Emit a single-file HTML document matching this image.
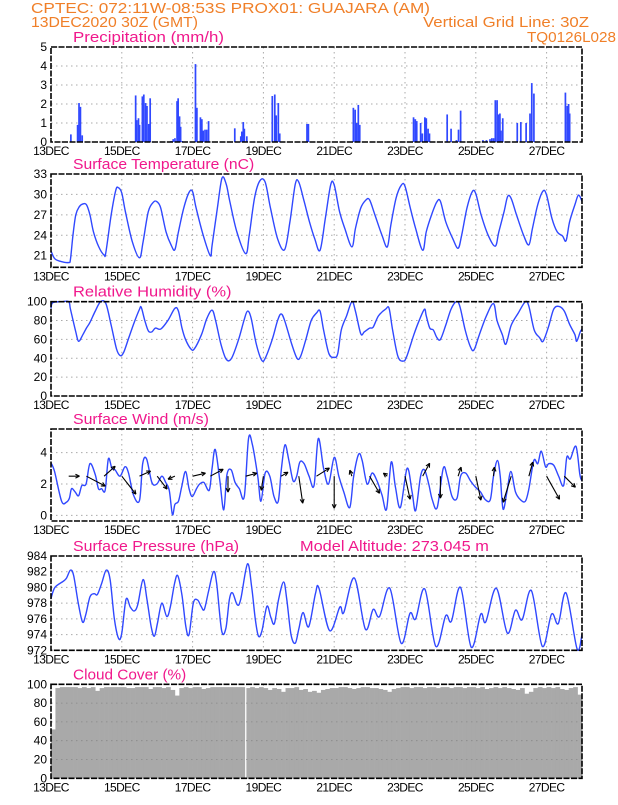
<!DOCTYPE html>
<html><head><meta charset="utf-8"><style>
html,body{margin:0;padding:0;background:#fff;}
svg text{font-family:"Liberation Sans",sans-serif;}
</style></head><body>
<svg id="chart" xmlns="http://www.w3.org/2000/svg" width="618" height="800" viewBox="0 0 618 800">
<rect x="0" y="0" width="618" height="800" fill="#fff"/>
<text x="31" y="13" font-size="15" fill="#f07f28" textLength="399" lengthAdjust="spacingAndGlyphs">CPTEC:   072:11W-08:53S   PROX01: GUAJARA (AM)</text>
<text x="31" y="27" font-size="15" fill="#f07f28" textLength="167" lengthAdjust="spacingAndGlyphs">13DEC2020 30Z (GMT)</text>
<text x="423" y="27" font-size="15" fill="#f07f28" textLength="166" lengthAdjust="spacingAndGlyphs">Vertical Grid Line: 30Z</text>
<text x="527" y="42" font-size="15" fill="#f07f28" textLength="89" lengthAdjust="spacingAndGlyphs">TQ0126L028</text>
<g id="plots"></g>
</svg>
<script>
// ---- data ----
const dayLabels = ["13DEC","15DEC","17DEC","19DEC","21DEC","23DEC","25DEC","27DEC"];
const precipDays = [0.56,0.75,0.79,0.83,0.88,2.39,2.42,2.47,2.5,2.58,2.62,2.67,2.71,2.76,2.8,3.39,3.45,3.5,3.56,3.59,3.63,3.66,3.7,4.08,4.12,4.22,4.26,4.3,4.35,4.4,4.45,5.19,5.36,5.39,5.43,5.46,5.53,6.25,6.32,6.36,6.42,6.46,7.23,7.27,8.54,8.59,8.63,8.68,8.72,10.24,10.29,10.33,10.44,10.49,10.56,10.6,10.65,10.69,11.19,11.3,11.45,11.51,11.57,12.2,12.3,12.4,12.45,12.5,12.55,12.6,12.64,12.68,12.71,12.76,13.17,13.27,13.42,13.53,13.58,13.64,14.53,14.58,14.62,14.65];
const precipValues = [0.4,0.9,2.05,1.85,0.35,2.45,1.15,1.25,0.9,2.4,2.5,2.05,1.9,0.95,2.3,0.05,0.15,0.2,2.15,2.3,1.35,0.8,0.05,4.1,1.8,1.3,1.2,0.6,0.65,0.65,1.1,0.72,0.3,0.55,1.05,0.7,0.3,2.42,2.5,1.4,2.05,0.45,0.95,0.95,1.8,1.7,1.0,1.95,0.9,1.3,1.2,1.1,1.0,0.45,1.3,1.25,0.7,0.45,1.45,0.7,0.1,0.65,1.65,0.1,0.1,0.15,0.2,0.2,2.2,2.2,1.45,1.5,0.6,1.25,1.0,1.05,1.0,1.5,3.1,2.55,2.6,1.9,2.0,1.5];

const tempDays = [0,0.1,0.25,0.5,0.55,0.62,0.7,0.8,0.9,1.0,1.1,1.2,1.35,1.5,1.55,1.7,1.83,1.9,2.0,2.1,2.3,2.5,2.6,2.75,2.9,3.0,3.1,3.25,3.4,3.5,3.6,3.75,3.9,4.0,4.1,4.3,4.5,4.55,4.7,4.83,4.95,5.05,5.25,5.5,5.6,5.75,5.9,6.05,6.2,6.4,6.6,6.75,6.9,7.0,7.15,7.3,7.45,7.6,7.75,7.9,8.0,8.15,8.3,8.5,8.6,8.75,8.9,9.0,9.15,9.35,9.5,9.6,9.75,9.9,10.0,10.15,10.3,10.5,10.6,10.75,10.9,11.0,11.15,11.35,11.5,11.6,11.75,11.9,12.0,12.15,12.35,12.55,12.65,12.8,12.9,13.0,13.15,13.35,13.5,13.6,13.75,13.9,14.0,14.15,14.3,14.45,14.55,14.65,14.8,14.9,15.0];
const tempValues = [21.7,20.6,20.2,20.0,20.5,24,27,28.2,28.6,28.5,27,24.5,22.3,21.1,21.5,27,30.6,31.0,30.2,27.5,23,20.7,23,27.5,28.9,28.9,28,24.5,22.5,21.9,24.5,28,30.3,30.4,28,24,21,22.5,28,32.4,31.5,29,24.5,21.3,24,29.5,32,31.8,28,23.5,21.9,26,31.5,31.8,29,26,23.5,21.8,26.5,31.4,31.4,27.5,25,22.3,25,28,29.2,29.2,27,24,22.3,25.5,29.5,31.4,31.2,28,25,21.8,24.5,27,28.9,29,26,23.5,22.1,24,28,30.4,30.1,27,24,22.4,24.5,27.5,29.7,29.4,27,24,22.6,25,28.5,30.5,29.9,26.5,24.5,23.9,23.2,26,28.5,29.9,29.0];

const rhDays = [0,0.05,0.3,0.5,0.55,0.7,0.78,0.9,1.0,1.1,1.25,1.4,1.55,1.7,1.85,1.95,2.05,2.2,2.35,2.5,2.55,2.65,2.75,2.85,2.95,3.1,3.3,3.5,3.6,3.7,3.8,3.95,4.05,4.25,4.4,4.55,4.65,4.8,4.95,5.1,5.3,5.45,5.55,5.65,5.8,5.95,6.05,6.25,6.4,6.5,6.6,6.8,6.95,7.05,7.2,7.35,7.5,7.6,7.7,7.85,8.0,8.1,8.2,8.35,8.5,8.6,8.75,8.85,9.0,9.1,9.25,9.45,9.55,9.65,9.8,9.95,10.05,10.25,10.4,10.55,10.6,10.7,10.8,10.9,11.0,11.15,11.3,11.45,11.55,11.7,11.85,11.95,12.1,12.3,12.5,12.6,12.75,12.85,13.0,13.2,13.4,13.5,13.65,13.8,13.9,14.05,14.2,14.35,14.5,14.65,14.8,14.85,14.95,15.0];
const rhValues = [93,99,100,100,92,68,58,65,72,78,90,100,98,75,50,43,46,62,78,92,94,80,69,68,72,71,80,93,90,72,60,50,50,65,82,91,80,55,39,40,60,80,90,83,55,38,40,60,80,87,80,55,40,42,60,80,88,90,70,45,41,45,70,85,100,90,66,68,72,73,85,92,93,70,42,37,42,65,80,92,85,72,70,62,60,75,92,100,95,70,52,49,65,85,98,80,65,55,75,88,100,95,70,62,58,73,92,95,90,76,65,58,68,71];

const windDays = [0,0.1,0.3,0.44,0.52,0.58,0.68,0.78,0.87,0.99,1.1,1.25,1.34,1.43,1.53,1.62,1.72,1.81,1.95,2.09,2.19,2.33,2.5,2.59,2.7,2.85,2.99,3.13,3.24,3.34,3.43,3.5,3.6,3.69,3.8,3.9,3.99,4.11,4.2,4.32,4.47,4.55,4.64,4.77,4.88,4.97,5.09,5.2,5.32,5.46,5.58,5.69,5.84,5.93,6.05,6.18,6.3,6.42,6.51,6.61,6.72,6.84,6.94,7.03,7.15,7.29,7.43,7.55,7.7,7.84,8.0,8.13,8.27,8.44,8.55,8.69,8.79,8.93,9.07,9.21,9.35,9.48,9.61,9.73,9.87,10.06,10.2,10.3,10.44,10.55,10.67,10.77,10.91,11.08,11.19,11.33,11.47,11.57,11.71,11.85,11.99,12.13,12.27,12.41,12.5,12.61,12.69,12.77,12.88,12.99,13.12,13.26,13.4,13.5,13.64,13.75,13.85,13.97,14.06,14.2,14.34,14.48,14.57,14.67,14.83,14.94,15.0];
const windValues = [3.35,2.8,0.9,0.85,1.1,1.7,1.5,1.25,1.9,2.0,3.3,2.6,1.7,1.7,1.6,3.6,3.0,2.9,2.5,3.1,2.7,1.3,0.95,3.3,3.6,2.1,2.0,2.5,2.1,1.6,0.05,0.7,0.9,1.8,2.8,1.7,1.2,1.7,2.0,2.1,1.6,3.0,4.2,2.2,0.35,2.6,2.9,2.1,1.7,1.2,4.9,4.5,2.5,0.9,2.7,2.5,1.2,0.9,3.0,4.5,3.5,2.2,2.5,3.4,3.3,2.5,1.9,4.9,3.0,2.0,3.7,2.5,1.5,0.5,2.5,3.9,3.5,2.0,2.7,2.2,1.3,0.4,3.4,1.8,0.5,3.0,1.5,0.3,2.5,2.9,2.0,1.0,0.5,3.0,2.5,1.2,1.1,2.5,2.7,2.2,1.8,1.5,1.0,1.0,2.5,3.5,2.5,0.4,1.5,2.8,1.5,1.0,0.9,1.7,3.5,3.3,4.1,3.1,3.3,3.2,2.5,1.9,3.7,3.6,4.4,2.6,2.2];
const arrowDays = [0.5,1.0,1.5,2.0,2.5,3.0,3.5,4.0,4.5,5.0,5.5,6.0,6.5,7.0,7.5,8.0,8.5,9.0,9.5,10.0,10.5,11.0,11.5,12.0,12.5,13.0,13.5,14.0,14.5];
const windU = [3.6,6.3,3.7,4.7,3.7,3.3,-2.3,4.3,4.3,0,3.7,-0.7,2.3,1.3,4.3,0,-0.7,3.3,-1.3,1.7,2.3,0,1,1.7,0.3,-2.7,1.3,4.3,3.7];
const windV = [0,-3.3,3.3,-6,1.7,-4.3,-1,1,2.3,-5.3,1,-4.7,1.3,-9,2.7,-10.7,2,-5.7,1,-7.7,4.3,-7.3,3,-8,3,-8.7,4.7,-7.7,-3.7];

const presDays = [0,0.11,0.35,0.44,0.55,0.64,0.77,0.89,0.98,1.1,1.22,1.31,1.43,1.56,1.67,1.79,1.91,2.0,2.12,2.24,2.35,2.45,2.6,2.71,2.83,2.92,3.01,3.13,3.27,3.37,3.49,3.58,3.7,3.81,3.9,4.02,4.14,4.24,4.33,4.45,4.59,4.68,4.82,4.94,5.04,5.13,5.26,5.36,5.55,5.67,5.77,5.86,5.96,6.1,6.21,6.31,6.43,6.57,6.66,6.78,6.9,7.0,7.12,7.28,7.47,7.57,7.87,8.16,8.27,8.57,8.88,9.1,9.28,9.57,9.89,10.14,10.3,10.56,10.87,11.15,11.31,11.57,11.87,12.14,12.28,12.58,12.89,13.12,13.31,13.57,13.88,14.14,14.33,14.55,14.86,15.0];
const presValues = [978.6,980,980.8,981.2,982.2,981.5,978,975.6,976.5,978.8,979.2,979.1,980.5,982.2,981,976,973.5,974.2,978.5,977.5,977,977.8,981,978.5,975,973.8,975.5,978,976.3,977.5,980.5,981.5,979,975,974,978,978.4,977.6,977.2,979.5,982,980.5,974.5,974.8,978.5,979.3,977.8,978.5,983,980,976,973.8,974.5,977.6,976.2,975.4,978.5,980.7,978.5,974,972.9,974.7,976.8,975,979.2,979.9,974.5,977.5,976.8,981.2,974.7,977.2,976.3,979.9,972.9,976.7,976,979.8,972.5,976.4,975.7,980,972.4,976.6,975.6,979.9,974.2,977.1,975.9,979.6,972.5,976.6,975.4,979.3,972.2,974.0];

const cloudValues = [52,96,97,97,97,97,96,97, 96,97,93,96,97,97,97,97, 97,96,96,97,97,97,95,97, 97,96,97,94,88,96,97,96, 97,97,95,96,97,97,97,97, 97,97,97,97,96,97,96,97, 96,94,96,95,92,96,96,97, 94,95,92,93,91,94,95,96, 96,97,97,96,95,96,97,97, 96,96,95,94,92,95,96,97, 97,96,97,97,96,97,97,96, 97,97,96,97,97,96,97,97, 96,97,95,96,97,96,97,96, 95,94,96,90,92,96,97,96, 97,96,97,95,94,96,97,89];
const cloudStepDays = 0.125;
const cloudMissingDays = [5.5];

// ---- drawing ----
const NS = "http://www.w3.org/2000/svg";
const plots = document.getElementById("plots");
const X0 = 51, X1 = 582, D0 = 0, D1 = 15;
const xs = d => X0 + (d - D0) / (D1 - D0) * (X1 - X0);
const BLUE = "#3048ff", PINK = "#f0188c";
const CHAR_W = 7.55;
function el(tag, attrs, parent) {
  const e = document.createElementNS(NS, tag);
  for (const k in attrs) e.setAttribute(k, attrs[k]);
  (parent || plots).appendChild(e);
  return e;
}
function titleText(g, x, y, str, name) {
  const t = el("text", {x: x, y: y, "font-size": 15, fill: PINK, textLength: (str.length * CHAR_W).toFixed(1), lengthAdjust: "spacingAndGlyphs"}, g);
  t.textContent = str;
  
  
}
function makePanel(name, title, top, bottom, ymin, ymax, ticks, extraTitle) {
  const g = el("g", {});
  
  
  const ys = v => bottom - (v - ymin) / (ymax - ymin) * (bottom - top);
  titleText(g, 73, top - 5, title, name + '-title');
  if (extraTitle) titleText(g, 300, top - 5, extraTitle, name + '-extra-title');
  ticks.forEach(v => {
    const l = el("line", {x1: X0, x2: X1, y1: ys(v), y2: ys(v), stroke: "#aaa", "stroke-dasharray": "1.5,3.5", "stroke-width": 1}, g);
    
    
    const lb = el("text", {x: X0 - 4, y: ys(v) + 4, "font-size": 12, fill: "#000", "text-anchor": "end"}, g);
    lb.textContent = String(v);
    
    
  });
  dayLabels.forEach((lab, i) => {
    const d = i * 2;
    const x = xs(d);
    if (d > 0) {
      const l = el("line", {x1: x, x2: x, y1: top, y2: bottom, stroke: "#aaa", "stroke-dasharray": "1.5,3.5", "stroke-width": 1}, g);
      
      
    }
    const lb = el("text", {x: x, y: bottom + 13, "font-size": 12, fill: "#000", "text-anchor": "middle", "letter-spacing": "-0.6"}, g);
    lb.textContent = lab;
    
    
  });
  return {g, ys, top, bottom};
}
function border(p, name) {
  const r = el("rect", {x: X0, y: p.top, width: X1 - X0, height: p.bottom - p.top, fill: "none", stroke: "#000", "stroke-width": 1.6, "stroke-dasharray": "6,1.5"}, p.g);
  
  
}
function line(p, days, vals, name) {
  const pts = days.map((t, i) => [xs(t), p.ys(vals[i])]);
  let d = "M" + pts[0][0].toFixed(2) + "," + pts[0][1].toFixed(2);
  for (let i = 0; i < pts.length - 1; i++) {
    const p0 = pts[Math.max(0, i - 1)], p1 = pts[i], p2 = pts[i + 1], p3 = pts[Math.min(pts.length - 1, i + 2)];
    const c1x = p1[0] + (p2[0] - p0[0]) / 6, c1y = p1[1] + (p2[1] - p0[1]) / 6;
    const c2x = p2[0] - (p3[0] - p1[0]) / 6, c2y = p2[1] - (p3[1] - p1[1]) / 6;
    d += " C" + c1x.toFixed(2) + "," + c1y.toFixed(2) + " " + c2x.toFixed(2) + "," + c2y.toFixed(2) + " " + p2[0].toFixed(2) + "," + p2[1].toFixed(2);
  }
  const path = el("path", {d: d, fill: "none", stroke: BLUE, "stroke-width": 1.4, "stroke-linejoin": "round"}, p.g);
  
  
}

// Precipitation
const pp = makePanel("precipitation", "Precipitation (mm/h)", 47, 142, 0, 5, [0,1,2,3,4,5]);
precipDays.forEach((d, i) => {
  const y = pp.ys(precipValues[i]);
  const b = el("rect", {x: xs(d) - 0.8, y: y, width: 1.7, height: pp.ys(0) - y, fill: BLUE}, pp.g);
  
  
});
border(pp, "precipitation");

// Temperature
const pt = makePanel("temperature", "Surface Temperature (nC)", 174, 267.3, 19.3, 33, [21,24,27,30,33]);
line(pt, tempDays, tempValues, "temperature-line");
border(pt, "temperature");

// Relative humidity
const pr = makePanel("humidity", "Relative Humidity (%)", 301.7, 396, 0, 100, [0,20,40,60,80,100]);
line(pr, rhDays, rhValues, "humidity-line");
border(pr, "humidity");

// Wind
const pw = makePanel("wind", "Surface Wind (m/s)", 429, 521, -0.36, 5.51, [0,2,4]);
line(pw, windDays, windValues, "wind-speed-line");
const ARROW_SCALE = 3, ARROW_BASE = 2.5;
arrowDays.forEach((d, i) => {
  const x0 = xs(d), y0 = pw.ys(ARROW_BASE);
  const x1 = x0 + windU[i] * ARROW_SCALE, y1 = y0 - windV[i] * ARROW_SCALE;
  const a = el("g", {}, pw.g);
  
  
  el("line", {x1: x0, y1: y0, x2: x1, y2: y1, stroke: "#000", "stroke-width": 1.1}, a);
  const ang = Math.atan2(y1 - y0, x1 - x0), h = 4.5;
  [0.45, -0.45].forEach(o => {
    el("line", {x1: x1, y1: y1, x2: x1 - h * Math.cos(ang + o), y2: y1 - h * Math.sin(ang + o), stroke: "#000", "stroke-width": 1.1}, a);
  });
});
border(pw, "wind");

// Pressure
const ps = makePanel("pressure", "Surface Pressure (hPa)", 556, 650.3, 972, 984, [972,974,976,978,980,982,984], "Model Altitude: 273.045 m");
line(ps, presDays, presValues, "pressure-line");
border(ps, "pressure");

// Cloud cover
const pc = makePanel("cloud", "Cloud Cover (%)", 684.3, 778.3, 0, 100, [0,20,40,60,80,100]);
cloudValues.forEach((v, i) => {
  const xa = xs(i * cloudStepDays), xb = xs((i + 1) * cloudStepDays);
  const y = pc.ys(v);
  const b = el("rect", {x: xa, y: y, width: xb - xa + 0.3, height: pc.ys(0) - y, fill: "#a9a9a9"}, pc.g);
  
  
});
cloudMissingDays.forEach(d => {
  const m = el("rect", {x: xs(d) - 0.6, y: pc.top, width: 1.3, height: pc.bottom - pc.top, fill: "#fff"}, pc.g);
  
  
});
[0,20,40,60,80,100].forEach(v => {
  const l = el("line", {x1: X0, x2: X1, y1: pc.ys(v), y2: pc.ys(v), stroke: "#888", "stroke-dasharray": "1.5,3.5", "stroke-width": 0.8}, pc.g);
  
  
});
border(pc, "cloud");
</script>
</body></html>
